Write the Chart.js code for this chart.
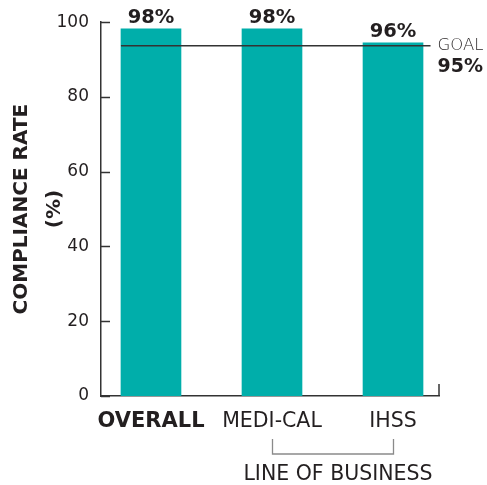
<!DOCTYPE html>
<html>
<head>
<meta charset="utf-8">
<script src="https://cdn.jsdelivr.net/npm/chart.js@4/dist/chart.umd.min.js"></script>
<style>
html,body{margin:0;padding:0;background:#fff;}
#wrap{width:487px;height:485px;}
</style>
</head>
<body>
<div id="wrap"><canvas id="c" width="487" height="485"></canvas></div>
<script>
// ---- data ----
const categories = ['OVERALL', 'MEDI-CAL', 'IHSS'];
const positions = [0, 1, 2];
const values = [98.2, 98.2, 94.5];
const valueLabels = ['98%', '98%', '96%'];
const goalValue = 93.7;
const goalLabel = '95%';
const goalName = 'GOAL';
const yTicks = [0, 20, 40, 60, 80, 100];
const groupLabel = 'LINE OF BUSINESS';
const groupFrom = 1, groupTo = 2;

const FONT = '"DejaVu Sans", sans-serif';
const TEXT = '#231f20';
const TEAL = '#00aeaa';

const extras = {
  id: 'extras',
  afterDraw(chart) {
    const ctx = chart.ctx;
    const xs = chart.scales.x, ys = chart.scales.y;
    const area = chart.chartArea;
    ctx.save();
    // inward ticks on y axis
    ctx.strokeStyle = '#333';
    ctx.lineWidth = 1.5;
    yTicks.forEach(v => {
      const y = Math.round(ys.getPixelForValue(v)) + 0.5;
      ctx.beginPath();
      ctx.moveTo(area.left, y);
      ctx.lineTo(area.left + 9, y);
      ctx.stroke();
    });
    // right end tick
    ctx.beginPath();
    ctx.moveTo(area.right, area.bottom);
    ctx.lineTo(area.right, area.bottom - 12);
    ctx.stroke();

    // value labels
    const meta = chart.getDatasetMeta(0);
    ctx.fillStyle = TEXT;
    ctx.font = 'bold 19.5px ' + FONT;
    ctx.textAlign = 'center';
    ctx.textBaseline = 'alphabetic';
    meta.data.forEach((bar, i) => {
      ctx.fillText(valueLabels[i], bar.x, bar.y - 6);
    });

    // goal labels
    const gmeta = chart.getDatasetMeta(1);
    const last = gmeta.data[gmeta.data.length - 1];
    ctx.textAlign = 'left';
    ctx.textBaseline = 'middle';
    ctx.font = '200 16.5px ' + FONT;
    ctx.fillText(goalName, last.x + 7, last.y);
    ctx.font = 'bold 19px ' + FONT;
    ctx.textBaseline = 'alphabetic';
    ctx.fillText(goalLabel, last.x + 7, last.y + 26.5);

    // group bracket
    const x1 = Math.round(xs.getPixelForValue(groupFrom)) + 0.5;
    const x2 = Math.round(xs.getPixelForValue(groupTo)) + 0.5;
    ctx.strokeStyle = '#8a8a8a';
    ctx.lineWidth = 1.3;
    ctx.beginPath();
    ctx.moveTo(x1, area.bottom + 43);
    ctx.lineTo(x1, area.bottom + 58);
    ctx.lineTo(x2, area.bottom + 58);
    ctx.lineTo(x2, area.bottom + 43);
    ctx.stroke();
    ctx.fillStyle = TEXT;
    ctx.font = '20.5px ' + FONT;
    ctx.textAlign = 'center';
    ctx.textBaseline = 'middle';
    ctx.fillText(groupLabel, (x1 + x2) / 2 + 5, area.bottom + 79);
    ctx.restore();
  }
};

new Chart(document.getElementById('c'), {
  type: 'bar',
  data: {
    datasets: [
      {
        type: 'bar',
        data: positions.map((p, i) => ({x: p, y: values[i]})),
        backgroundColor: TEAL,
        barThickness: 60,
        order: 2
      },
      {
        type: 'line',
        data: [{x: -0.248, y: goalValue}, {x: 2.31, y: goalValue}],
        borderColor: '#333',
        borderWidth: 1.5,
        pointRadius: 0,
        order: 1
      }
    ]
  },
  options: {
    responsive: false,
    animation: false,
    devicePixelRatio: 1,
    layout: {padding: {top: 22, right: 48, bottom: 0, left: 0}},
    plugins: {legend: {display: false}, tooltip: {enabled: false}},
    scales: {
      x: {
        type: 'linear',
        offset: false,
        min: -0.413,
        max: 2.38,
        afterFit(s) { s.height = 89; },
        afterBuildTicks(s) { s.ticks = positions.map(v => ({value: v})); },
        grid: {display: false, drawTicks: false, offset: false},
        border: {display: true, color: '#333', width: 1.5},
        ticks: {
          autoSkip: false,
          maxRotation: 0,
          padding: 13,
          color: TEXT,
          font: (c) => ({family: FONT, size: c.index === 0 ? 21 : 20.5, weight: c.index === 0 ? 'bold' : 'normal'}),
          callback: (v) => categories[v] ?? ''
        }
      },
      y: {
        min: 0,
        max: 100,
        afterFit(s) { s.width = 101; },
        afterBuildTicks(s) { s.ticks = yTicks.map(v => ({value: v})); },
        grid: {display: false, drawTicks: false},
        border: {display: true, color: '#333', width: 1.5},
        ticks: {padding: 12, color: TEXT, font: {family: FONT, size: 17}},
        title: {
          display: true,
          text: ['COMPLIANCE RATE', '(%)'],
          color: TEXT,
          font: {family: FONT, size: 20, weight: 'bold', lineHeight: 1.65},
          padding: {top: 5, bottom: 0}
        }
      }
    }
  },
  plugins: [extras]
});
</script>
</body>
</html>
